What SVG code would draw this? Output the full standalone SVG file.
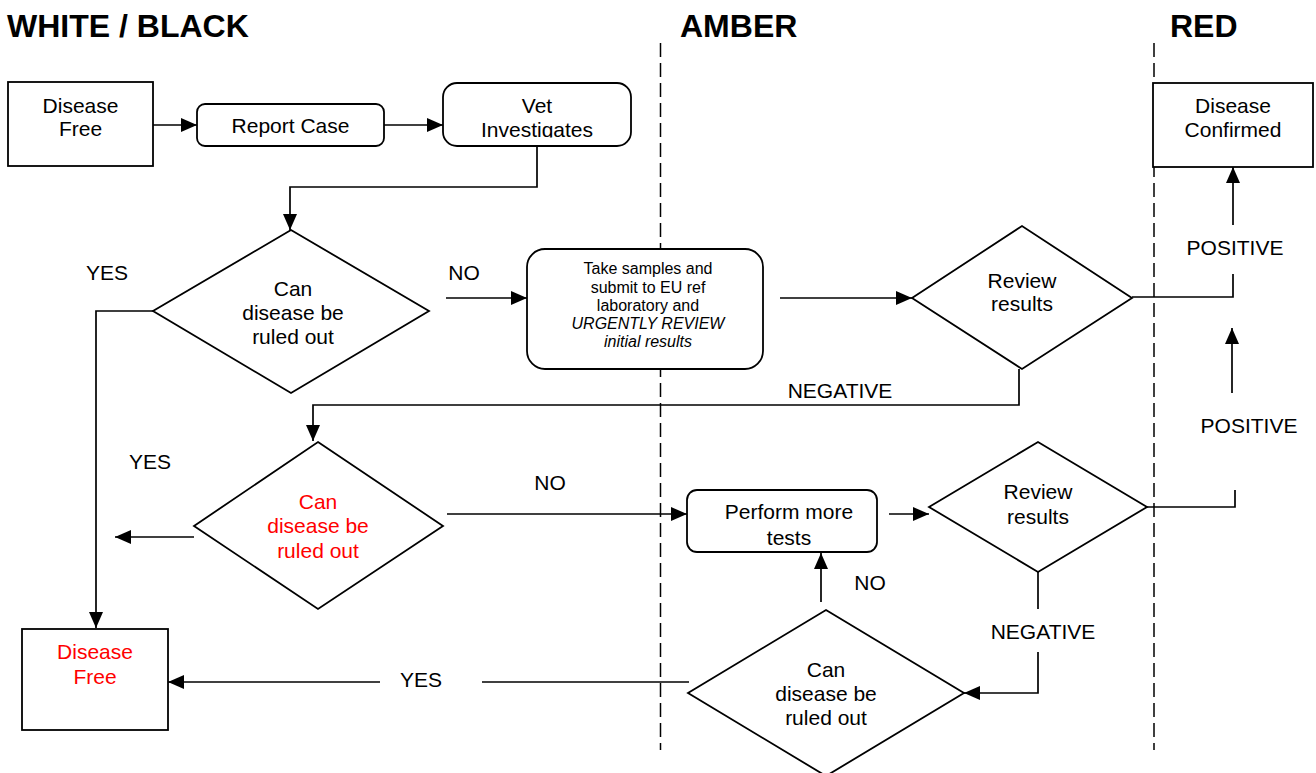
<svg xmlns="http://www.w3.org/2000/svg" width="1316" height="773" viewBox="0 0 1316 773">
<style>
text{font-family:"Liberation Sans",Arial,sans-serif;font-size:21px;fill:#000;text-anchor:middle}
.title{font-size:32px;font-weight:bold;text-anchor:start}
.small{font-size:16px}
.it{font-style:italic}
.red{fill:#ff0000}
.box{fill:#fff;stroke:#000;stroke-width:1.8}
.ln{fill:none;stroke:#000;stroke-width:1.7}
.dash{fill:none;stroke:#000;stroke-width:1.5;stroke-dasharray:14 6}
</style>
<defs>
<marker id="ah" viewBox="0 0 16 14" refX="16" refY="7" markerWidth="16" markerHeight="14" markerUnits="userSpaceOnUse" orient="auto">
<path d="M0,0 L16,7 L0,14 z" fill="#000"/>
</marker>
<clipPath id="cVet"><rect x="443" y="83" width="188" height="54.5"/></clipPath>
<clipPath id="cPerf"><rect x="687" y="490" width="190" height="55"/></clipPath>
</defs>

<g id="lanes">
<text class="title" x="7" y="37">WHITE / BLACK</text>
<text class="title" x="680" y="37">AMBER</text>
<text class="title" x="1170" y="37">RED</text>
<line class="dash" x1="660.5" y1="43" x2="660.5" y2="750"/>
<line class="dash" x1="1154" y1="43" x2="1154" y2="750"/>
</g>

<g id="connectors">
<line class="ln" x1="153" y1="125" x2="197" y2="125" marker-end="url(#ah)"/>
<line class="ln" x1="384" y1="125" x2="443" y2="125" marker-end="url(#ah)"/>
<polyline class="ln" points="537,146 537,187 290,187 290,230" marker-end="url(#ah)"/>
<polyline class="ln" points="153,311 96,311 96,628" marker-end="url(#ah)"/>
<line class="ln" x1="446" y1="298" x2="527" y2="298" marker-end="url(#ah)"/>
<line class="ln" x1="780" y1="298" x2="912" y2="298" marker-end="url(#ah)"/>
<polyline class="ln" points="1132,297 1233,297 1233,274"/>
<line class="ln" x1="1233" y1="225" x2="1233" y2="167" marker-end="url(#ah)"/>
<polyline class="ln" points="1019,369 1019,405 313,405 313,441" marker-end="url(#ah)"/>
<line class="ln" x1="194" y1="537" x2="115" y2="537" marker-end="url(#ah)"/>
<line class="ln" x1="447" y1="514" x2="687" y2="514" marker-end="url(#ah)"/>
<line class="ln" x1="889" y1="514" x2="929" y2="514" marker-end="url(#ah)"/>
<polyline class="ln" points="1147,507 1235,507 1235,490"/>
<line class="ln" x1="1232" y1="393" x2="1232" y2="328" marker-end="url(#ah)"/>
<line class="ln" x1="1038" y1="572" x2="1038" y2="609"/>
<polyline class="ln" points="1038,652 1038,693 964,693" marker-end="url(#ah)"/>
<line class="ln" x1="821" y1="602" x2="821" y2="553" marker-end="url(#ah)"/>
<line class="ln" x1="689" y1="682" x2="482" y2="682"/>
<line class="ln" x1="380" y1="682" x2="168" y2="682" marker-end="url(#ah)"/>
<text x="107" y="280">YES</text>
<text x="464" y="280">NO</text>
<text x="1235" y="255">POSITIVE</text>
<text x="840" y="398">NEGATIVE</text>
<text x="1249" y="433">POSITIVE</text>
<text x="150" y="469">YES</text>
<text x="550" y="490">NO</text>
<text x="870" y="590">NO</text>
<text x="1043" y="639">NEGATIVE</text>
<text x="421" y="687">YES</text>
</g>

<g id="disease-free-1">
<rect class="box" x="8" y="82" width="145" height="84"/>
<text x="80.5" y="113">Disease</text>
<text x="80.5" y="136">Free</text>
</g>

<g id="report-case">
<rect class="box" x="197" y="104" width="187" height="42" rx="8"/>
<text x="290.5" y="133">Report Case</text>
</g>

<g id="vet-investigates">
<rect class="box" x="443" y="83" width="188" height="63" rx="14"/>
<text x="537" y="113">Vet</text>
<text x="537" y="137" clip-path="url(#cVet)">Investigates</text>
</g>

<g id="decision-1">
<polygon class="box" points="291,230 429,311 291,393 153,311"/>
<text x="293" y="296">Can</text>
<text x="293" y="320">disease be</text>
<text x="293" y="344">ruled out</text>
</g>

<g id="take-samples">
<rect class="box" x="527" y="249" width="236" height="120" rx="18"/>
<text class="small" x="648" y="274">Take samples and</text>
<text class="small" x="648" y="293">submit to EU ref</text>
<text class="small" x="648" y="311">laboratory and</text>
<text class="small it" x="648" y="329">URGENTLY REVIEW</text>
<text class="small it" x="648" y="347">initial results</text>
</g>

<g id="review-1">
<polygon class="box" points="912,298 1022,226 1132,298 1022,369"/>
<text x="1022" y="288">Review</text>
<text x="1022" y="311">results</text>
</g>

<g id="disease-confirmed">
<rect class="box" x="1153" y="83" width="160" height="84"/>
<text x="1233" y="113">Disease</text>
<text x="1233" y="137">Confirmed</text>
</g>

<g id="decision-2">
<polygon class="box" points="318,442 443,526 318,609 194,526"/>
<text class="red" x="318" y="509">Can</text>
<text class="red" x="318" y="533">disease be</text>
<text class="red" x="318" y="558">ruled out</text>
</g>

<g id="perform-tests">
<rect class="box" x="687" y="490" width="190" height="62" rx="10"/>
<text x="789" y="519">Perform more</text>
<text x="789" y="545" clip-path="url(#cPerf)">tests</text>
</g>

<g id="review-2">
<polygon class="box" points="929,507 1038,442 1147,507 1038,572"/>
<text x="1038" y="499">Review</text>
<text x="1038" y="524">results</text>
</g>

<g id="decision-3">
<polygon class="box" points="826,610 964,693 826,776 688,693"/>
<text x="826" y="677">Can</text>
<text x="826" y="701">disease be</text>
<text x="826" y="725">ruled out</text>
</g>

<g id="disease-free-2">
<rect class="box" x="22" y="629" width="146" height="101"/>
<text class="red" x="95" y="659">Disease</text>
<text class="red" x="95" y="684">Free</text>
</g>
</svg>
